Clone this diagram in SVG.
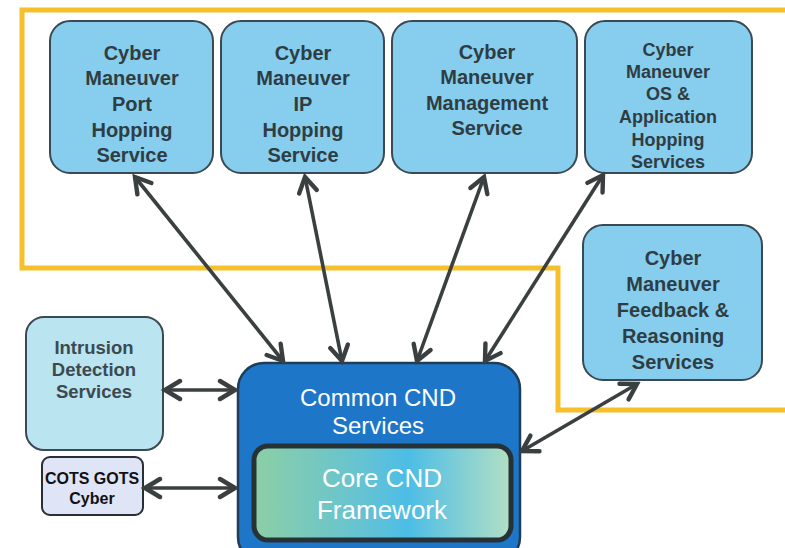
<svg xmlns="http://www.w3.org/2000/svg" width="785" height="548" viewBox="0 0 785 548">
<defs>
<style>
.svc rect{fill:#86cdee;stroke:#3b4a52;stroke-width:2}
.svc text{font-family:"Liberation Sans",Arial,sans-serif;font-size:20px;font-weight:bold;fill:#2f3d42;text-anchor:middle;dominant-baseline:central}
.conn line{stroke:#3a3f40;stroke-width:3.6;marker-start:url(#ah);marker-end:url(#ah)}
.wt{font-family:"Liberation Sans",Arial,sans-serif;fill:#ffffff;text-anchor:middle;dominant-baseline:central}
</style>
<marker id="ah" markerUnits="userSpaceOnUse" markerWidth="24" markerHeight="24" viewBox="-20 -12 24 24" refX="0" refY="0" orient="auto-start-reverse">
<path d="M-15,-9 L0,0 L-15,9" fill="none" stroke="#3a3f40" stroke-width="4.4" stroke-linejoin="miter" stroke-linecap="round"/>
</marker>
<linearGradient id="core" x1="0" y1="0" x2="1" y2="0">
<stop offset="0" stop-color="#8ccfa6"/>
<stop offset="0.45" stop-color="#62c2d6"/>
<stop offset="0.6" stop-color="#4cbde6"/>
<stop offset="1" stop-color="#b3dfc4"/>
</linearGradient>
</defs>
<rect width="785" height="548" fill="#ffffff"/>
<path id="boundary" d="M785,10 L22,10 L22,268 L558,268 L558,410 L785,410" fill="none" stroke="#f6c02c" stroke-width="5"/>
<g id="port" class="svc">
<rect x="50" y="21" width="163" height="152" rx="20"/>
<text x="132" y="53">Cyber</text>
<text x="132" y="78">Maneuver</text>
<text x="132" y="104">Port</text>
<text x="132" y="130">Hopping</text>
<text x="132" y="155">Service</text>
</g>
<g id="ip" class="svc">
<rect x="221" y="21" width="163" height="152" rx="20"/>
<text x="303" y="53">Cyber</text>
<text x="303" y="78">Maneuver</text>
<text x="303" y="104">IP</text>
<text x="303" y="130">Hopping</text>
<text x="303" y="155">Service</text>
</g>
<g id="mgmt" class="svc">
<rect x="392" y="21" width="185" height="152" rx="20"/>
<text x="487" y="52">Cyber</text>
<text x="487" y="77">Maneuver</text>
<text x="487" y="103">Management</text>
<text x="487" y="128">Service</text>
</g>
<g id="os" class="svc">
<rect x="585" y="21" width="167" height="152" rx="20"/>
<text x="668" y="50" style="font-size:18px">Cyber</text>
<text x="668" y="72" style="font-size:18px">Maneuver</text>
<text x="668" y="94" style="font-size:18px">OS &amp;</text>
<text x="668" y="117" style="font-size:18px">Application</text>
<text x="668" y="140" style="font-size:18px">Hopping</text>
<text x="668" y="162" style="font-size:18px">Services</text>
</g>
<g id="feedback" class="svc">
<rect x="583" y="225" width="179" height="155" rx="20"/>
<text x="673" y="258">Cyber</text>
<text x="673" y="284">Maneuver</text>
<text x="673" y="310">Feedback &amp;</text>
<text x="673" y="336">Reasoning</text>
<text x="673" y="362">Services</text>
</g>
<g id="intrusion" class="svc">
<rect x="26" y="317" width="137" height="133" rx="18" style="fill:#b9e4f0"/>
<text x="94" y="347" style="font-size:18.5px;fill:#3c4a50">Intrusion</text>
<text x="94" y="369" style="font-size:18.5px;fill:#3c4a50">Detection</text>
<text x="94" y="391" style="font-size:18.5px;fill:#3c4a50">Services</text>
</g>
<g id="cots" class="svc">
<rect x="42" y="457" width="101" height="58" rx="8" style="fill:#dfe5f6;stroke:#2a2f33"/>
<text x="92" y="478" style="font-size:16px;fill:#111111">COTS GOTS</text>
<text x="92" y="498" style="font-size:16px;fill:#111111">Cyber</text>
</g>
<g id="common">
<rect x="238" y="363" width="282" height="200" rx="26" fill="#1e76c9" stroke="#1f3c58" stroke-width="2.5"/>
<text class="wt" x="378" y="397" font-size="24">Common CND</text>
<text class="wt" x="378" y="425" font-size="24">Services</text>
</g>
<g id="core">
<rect x="254" y="446" width="257" height="94" rx="14" fill="url(#core)" stroke="#263236" stroke-width="5"/>
<text class="wt" x="382" y="478" font-size="26">Core CND</text>
<text class="wt" x="382" y="510" font-size="26">Framework</text>
</g>
<g id="connectors" class="conn">
<line x1="135" y1="177" x2="283" y2="361"/>
<line x1="305" y1="177" x2="342" y2="361"/>
<line x1="484" y1="177" x2="417" y2="361"/>
<line x1="603" y1="175" x2="485" y2="361"/>
<line x1="637" y1="384" x2="522" y2="451"/>
<line x1="165" y1="390" x2="235" y2="390"/>
<line x1="145" y1="488" x2="235" y2="488"/>
</g>
</svg>
